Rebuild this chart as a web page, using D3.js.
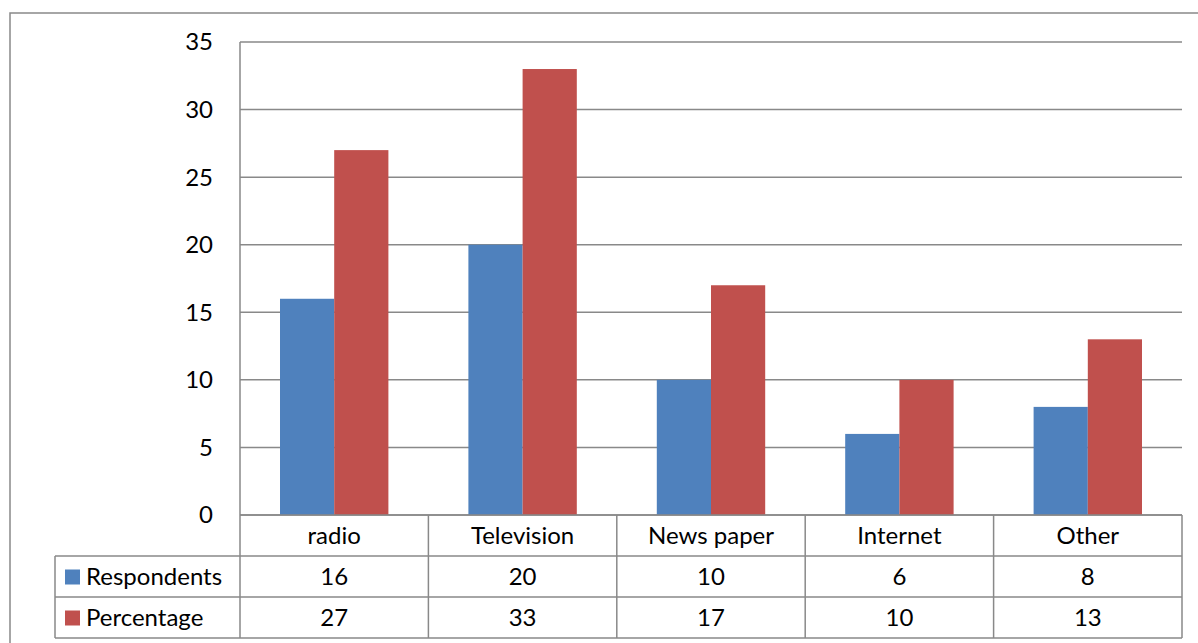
<!DOCTYPE html>
<html>
<head>
<meta charset="utf-8">
<script src="https://cdn.jsdelivr.net/npm/d3@7"></script>
<style>
  body { margin: 0; background: #fff; }
  svg { font-family: Lato, "Open Sans", sans-serif; }
</style>
</head>
<body>
<div id="chart"></div>
<script>
// chart data
const categories = ["radio", "Television", "News paper", "Internet", "Other"];
const seriesNames = ["Respondents", "Percentage"];
const respondents = [16, 20, 10, 6, 8];
const percentage = [27, 33, 17, 10, 13];
const yTicks = [0, 5, 10, 15, 20, 25, 30, 35];

const seriesValues = [respondents, percentage];
const colors = ["#4F81BD", "#C0504D"];

const width = 1198, height = 643;
const plot = { left: 240, right: 1182, top: 42, bottom: 515 };
const rowH = 41;
const tableLeft = 55;
const gridColor = "#898989";
const fontSize = 24;

const svg = d3.select("#chart").append("svg")
  .attr("width", width)
  .attr("height", height);

// outer chart border (cut off at right/bottom like the original)
svg.append("rect")
  .attr("x", 10).attr("y", 13)
  .attr("width", 1300).attr("height", 800)
  .attr("fill", "none")
  .attr("stroke", gridColor)
  .attr("stroke-width", 1.5);

const y = d3.scaleLinear().domain([0, 35]).range([plot.bottom, plot.top]);
const padding = 80 / 188.4;
const x0 = d3.scaleBand().domain(categories)
  .range([plot.left, plot.right])
  .paddingInner(padding).paddingOuter(padding / 2);
const x1 = d3.scaleBand().domain(seriesNames).range([0, x0.bandwidth()]);

// gridlines
svg.append("g").selectAll("line")
  .data(yTicks)
  .join("line")
  .attr("x1", plot.left).attr("x2", plot.right)
  .attr("y1", d => y(d)).attr("y2", d => y(d))
  .attr("stroke", gridColor).attr("stroke-width", 1.5);

// y tick labels
svg.append("g").selectAll("text")
  .data(yTicks)
  .join("text")
  .attr("x", 213).attr("y", d => y(d))
  .attr("dy", "0.35em")
  .attr("text-anchor", "end")
  .attr("font-size", fontSize)
  .text(d => d);

// bars
const groups = svg.append("g").selectAll("g")
  .data(categories)
  .join("g")
  .attr("transform", d => `translate(${x0(d)},0)`);

groups.selectAll("rect")
  .data((d, i) => seriesNames.map((s, j) => ({ s, v: seriesValues[j][i], j })))
  .join("rect")
  .attr("x", d => x1(d.s))
  .attr("width", x1.bandwidth())
  .attr("y", d => y(d.v))
  .attr("height", d => plot.bottom - y(d.v))
  .attr("fill", d => colors[d.j]);

// y axis line
svg.append("line")
  .attr("x1", plot.left).attr("x2", plot.left)
  .attr("y1", plot.top).attr("y2", plot.bottom)
  .attr("stroke", gridColor).attr("stroke-width", 1.5);

// data table
const step = x0.step();
const table = svg.append("g")
  .attr("stroke", gridColor).attr("stroke-width", 1.5);
// horizontal lines
[plot.bottom, plot.bottom + rowH].forEach(yy => {
  table.append("line").attr("x1", yy === plot.bottom ? plot.left : tableLeft)
    .attr("x2", plot.right).attr("y1", yy).attr("y2", yy);
});
[plot.bottom + rowH * 2, plot.bottom + rowH * 3].forEach(yy => {
  table.append("line").attr("x1", tableLeft).attr("x2", plot.right)
    .attr("y1", yy).attr("y2", yy);
});
// vertical lines
table.append("line").attr("x1", tableLeft).attr("x2", tableLeft)
  .attr("y1", plot.bottom + rowH).attr("y2", plot.bottom + rowH * 3);
d3.range(categories.length + 1).forEach(i => {
  const xx = plot.left + i * step;
  table.append("line").attr("x1", xx).attr("x2", xx)
    .attr("y1", plot.bottom).attr("y2", plot.bottom + rowH * 3);
});

// category labels
svg.append("g").selectAll("text")
  .data(categories)
  .join("text")
  .attr("x", d => x0(d) + x0.bandwidth() / 2)
  .attr("y", plot.bottom + rowH / 2)
  .attr("dy", "0.35em")
  .attr("text-anchor", "middle")
  .attr("font-size", fontSize)
  .text(d => d);

// series rows
seriesNames.forEach((name, j) => {
  const cy = plot.bottom + rowH * (j + 1) + rowH / 2;
  svg.append("rect")
    .attr("x", 65).attr("y", cy - 7)
    .attr("width", 15).attr("height", 15)
    .attr("fill", colors[j]);
  svg.append("text")
    .attr("x", 86).attr("y", cy)
    .attr("dy", "0.35em")
    .attr("font-size", fontSize)
    .text(name);
  svg.append("g").selectAll("text")
    .data(seriesValues[j])
    .join("text")
    .attr("x", (d, i) => x0(categories[i]) + x0.bandwidth() / 2)
    .attr("y", cy)
    .attr("dy", "0.35em")
    .attr("text-anchor", "middle")
    .attr("font-size", fontSize)
    .text(d => d);
});
</script>
</body>
</html>
